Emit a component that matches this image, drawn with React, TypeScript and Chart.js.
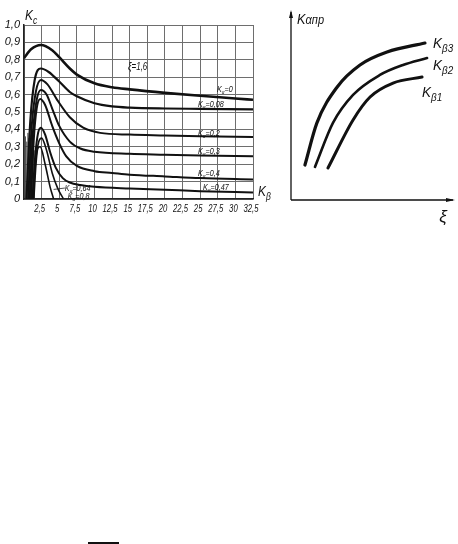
import React, { useEffect, useRef } from 'react';
import { Chart, registerables } from 'chart.js';
Chart.register(...registerables);

// ---------- Left chart data ----------
const xTicks = [0, 2.5, 5, 7.5, 10, 12.5, 15, 17.5, 20, 22.5, 25, 27.5, 30, 32.5];
const xTickLabels = ['', '2,5', '5', '7,5', '10', '12,5', '15', '17,5', '20', '22,5', '25', '27,5', '30', '32,5'];
const yTicks = [0, 0.1, 0.2, 0.3, 0.4, 0.5, 0.6, 0.7, 0.8, 0.9, 1.0];
const yTickLabels = ['0', '0,1', '0,2', '0,3', '0,4', '0,5', '0,6', '0,7', '0,8', '0,9', '1,0'];

const k0X = [0, 1, 2.4, 4, 5, 6.5, 7.5, 10, 12.5, 15, 20, 25, 30, 32.5];
const k0Y = [0.81, 0.86, 0.885, 0.855, 0.815, 0.75, 0.715, 0.665, 0.642, 0.63, 0.61, 0.593, 0.578, 0.57];

const k008X = [0.35, 0.9, 1.5, 2.4, 3.5, 5, 6.5, 7.5, 10, 12.5, 15, 20, 25, 32.5];
const k008Y = [0, 0.45, 0.68, 0.75, 0.73, 0.675, 0.615, 0.59, 0.55, 0.532, 0.525, 0.52, 0.518, 0.515];

const k02X = [0.6, 1.1, 1.7, 2.4, 3.3, 4.7, 6.5, 8.4, 10.8, 15, 20, 25, 32.5];
const k02Y = [0, 0.42, 0.62, 0.684, 0.66, 0.57, 0.47, 0.41, 0.38, 0.37, 0.365, 0.36, 0.356];

const k03X = [0.8, 1.3, 1.8, 2.4, 3.2, 4, 5, 6.5, 8, 10, 15, 20, 25, 32.5];
const k03Y = [0, 0.4, 0.57, 0.626, 0.6, 0.52, 0.42, 0.33, 0.29, 0.272, 0.26, 0.255, 0.25, 0.245];

const k04X = [1.0, 1.4, 1.8, 2.3, 3, 4, 5, 6, 7.5, 10, 12.5, 15, 20, 25, 32.5];
const k04Y = [0, 0.35, 0.52, 0.575, 0.54, 0.42, 0.32, 0.245, 0.19, 0.16, 0.15, 0.14, 0.13, 0.12, 0.112];

const k047X = [1.2, 1.6, 2.0, 2.4, 3, 3.7, 4.5, 5.5, 6.5, 8, 10, 15, 20, 25, 32.5];
const k047Y = [0, 0.25, 0.38, 0.41, 0.37, 0.27, 0.18, 0.12, 0.095, 0.08, 0.07, 0.06, 0.053, 0.045, 0.038];

const k064X = [1.3, 1.7, 2.1, 2.5, 3.2, 4, 4.8, 5.6];
const k064Y = [0, 0.24, 0.33, 0.35, 0.28, 0.15, 0.06, 0];

const k08X = [1.4, 1.7, 1.95, 2.3, 3, 3.7, 4.2];
const k08Y = [0, 0.2, 0.29, 0.3, 0.2, 0.07, 0];

const hatchX = [0.2, 0.4, 0.55, 0.7, 0.85, 1.0, 1.15, 1.3, 1.45];
const hatchTop = [0.36, 0.33, 0.38, 0.35, 0.37, 0.34, 0.36, 0.3, 0.28];

const curveLabels = ['0', '0,08', '0,2', '0,3', '0,4', '0,47', '0,64', '0,8'];
const curveLabelX = [27.4, 24.7, 24.7, 24.7, 24.7, 25.4, 5.8, 6.2];
const curveLabelY = [0.632, 0.546, 0.379, 0.276, 0.149, 0.069, 0.063, 0.017];

const xiLabel = 'ξ=1,6';
const xiLabelX = 14.75;
const xiLabelY = 0.759;

// ---------- Right chart data ----------
const kb3X = [0.086, 0.16, 0.284, 0.426, 0.593, 0.827];
const kb3Y = [0.186, 0.41, 0.6, 0.718, 0.787, 0.835];
const kb2X = [0.148, 0.259, 0.383, 0.549, 0.691, 0.84];
const kb2Y = [0.176, 0.41, 0.559, 0.665, 0.718, 0.755];
const kb1X = [0.228, 0.383, 0.488, 0.63, 0.809];
const kb1Y = [0.17, 0.426, 0.548, 0.622, 0.654];

const kbLabels = ['3', '2', '1'];
const kbLabelX = [0.877, 0.877, 0.809];
const kbLabelY = [0.835, 0.718, 0.574];

const toPts = (xs: number[], ys: number[]) => xs.map((x, i) => ({ x, y: ys[i] }));

const FONT = '"Liberation Sans Narrow", "Liberation Sans", "DejaVu Sans", sans-serif';

function drawSubLabel(ctx: CanvasRenderingContext2D, x: number, y: number, main: string, sub: string, rest: string, size: number, squeeze = 1) {
  ctx.save();
  ctx.translate(x, y);
  ctx.scale(squeeze, 1);
  ctx.fillStyle = '#111';
  ctx.textBaseline = 'alphabetic';
  ctx.textAlign = 'left';
  ctx.font = `italic ${size}px ${FONT}`;
  ctx.fillText(main, 0, 0);
  let w = ctx.measureText(main).width;
  ctx.font = `italic ${Math.round(size * 0.72)}px ${FONT}`;
  ctx.fillText(sub, w, size * 0.25);
  w += ctx.measureText(sub).width;
  if (rest) {
    ctx.font = `italic ${size}px ${FONT}`;
    ctx.fillText(rest, w, 0);
  }
  ctx.restore();
}

const leftLabelsPlugin = {
  id: 'leftLabels',
  afterDraw(chart: any) {
    const { ctx, chartArea, scales } = chart;
    const xs = scales.x;
    const ys = scales.y;
    // x tick labels (narrow handwritten style)
    ctx.save();
    ctx.fillStyle = '#111';
    ctx.font = `italic 11px ${FONT}`;
    ctx.textAlign = 'center';
    ctx.textBaseline = 'top';
    xTicks.forEach((v, i) => {
      const t = xTickLabels[i];
      if (!t) return;
      ctx.save();
      ctx.translate(xs.getPixelForValue(v) - 2, chartArea.bottom + 4);
      ctx.scale(0.7, 1);
      ctx.fillText(t, 0, 0);
      ctx.restore();
    });
    ctx.restore();
    // axis titles
    drawSubLabel(ctx, chartArea.left + 1, chartArea.top - 5, 'K', 'c', '', 14, 0.85);
    drawSubLabel(ctx, chartArea.right + 5, chartArea.bottom - 3, 'K', 'β', '', 14, 0.85);
    // xi label
    ctx.save();
    ctx.fillStyle = '#111';
    ctx.font = `italic 10px ${FONT}`;
    ctx.textBaseline = 'middle';
    ctx.translate(xs.getPixelForValue(xiLabelX), ys.getPixelForValue(xiLabelY));
    ctx.scale(0.8, 1);
    ctx.fillText(xiLabel, 0, 0);
    ctx.restore();
    // curve labels
    curveLabels.forEach((t, i) => {
      const px = xs.getPixelForValue(curveLabelX[i]);
      const py = ys.getPixelForValue(curveLabelY[i]) + 3;
      drawSubLabel(ctx, px, py, 'K', 'α', '=' + t, 9, 0.8);
    });
    // leader for 0,64
    ctx.save();
    ctx.strokeStyle = '#222';
    ctx.lineWidth = 0.8;
    ctx.beginPath();
    ctx.moveTo(xs.getPixelForValue(4.2), ys.getPixelForValue(0.055));
    ctx.lineTo(xs.getPixelForValue(curveLabelX[6]), ys.getPixelForValue(curveLabelY[6]));
    ctx.stroke();
    ctx.restore();
  },
};

const rightPlugin = {
  id: 'rightAxes',
  beforeDatasetsDraw(chart: any) {
    const { ctx, chartArea } = chart;
    const { left, right, top, bottom } = chartArea;
    ctx.save();
    ctx.strokeStyle = '#111';
    ctx.fillStyle = '#111';
    ctx.lineWidth = 1.3;
    ctx.beginPath();
    ctx.moveTo(left, bottom);
    ctx.lineTo(left, top);
    ctx.moveTo(left, bottom);
    ctx.lineTo(right, bottom);
    ctx.stroke();
    // arrows
    ctx.beginPath();
    ctx.moveTo(left, top - 2);
    ctx.lineTo(left - 2, top + 6);
    ctx.lineTo(left + 2, top + 6);
    ctx.closePath();
    ctx.fill();
    ctx.beginPath();
    ctx.moveTo(right + 2, bottom);
    ctx.lineTo(right - 7, bottom - 2);
    ctx.lineTo(right - 7, bottom + 2);
    ctx.closePath();
    ctx.fill();
    ctx.restore();
  },
  afterDraw(chart: any) {
    const { ctx, chartArea, scales } = chart;
    const { left, right, top, bottom } = chartArea;
    ctx.save();
    ctx.fillStyle = '#111';
    ctx.textBaseline = 'alphabetic';
    ctx.translate(left + 6, top + 12);
    ctx.scale(0.85, 1);
    ctx.font = `italic 15px ${FONT}`;
    ctx.fillText('K', 0, 0);
    const kw = ctx.measureText('K').width;
    ctx.font = `italic 13px ${FONT}`;
    ctx.fillText('αпр', kw, 0);
    ctx.restore();
    ctx.save();
    ctx.fillStyle = '#111';
    ctx.font = `italic 17px ${FONT}`;
    ctx.textAlign = 'center';
    ctx.fillText('ξ', right - 10, bottom + 22);
    ctx.restore();
    kbLabels.forEach((t, i) => {
      const px = scales.x.getPixelForValue(kbLabelX[i]);
      const py = scales.y.getPixelForValue(kbLabelY[i]) + 5;
      drawSubLabel(ctx, px, py, 'K', 'β' + t, '', 15, 0.9);
    });
  },
};

function LeftChart() {
  const ref = useRef<HTMLCanvasElement>(null);
  useEffect(() => {
    if (!ref.current) return;
    const hatchPts: any[] = [];
    hatchX.forEach((hx, i) => {
      hatchPts.push({ x: hx, y: 0 }, { x: hx, y: hatchTop[i] }, { x: hx, y: null });
    });
    const curve = (xs: number[], ys: number[], w = 2) => ({
      data: toPts(xs, ys),
      borderColor: '#111',
      borderWidth: w,
      pointRadius: 0,
      cubicInterpolationMode: 'monotone' as const,
      fill: false,
    });
    const chart = new Chart(ref.current, {
      type: 'line',
      data: {
        datasets: [
          curve(k0X, k0Y, 2.6),
          curve(k008X, k008Y, 2.2),
          curve(k02X, k02Y),
          curve(k03X, k03Y),
          curve(k04X, k04Y),
          curve(k047X, k047Y),
          curve(k064X, k064Y, 1.6),
          curve(k08X, k08Y, 1.6),
          {
            data: hatchPts,
            borderColor: '#444',
            borderWidth: 1,
            pointRadius: 0,
            tension: 0,
            spanGaps: false,
            fill: false,
          } as any,
        ],
      },
      options: {
        responsive: false,
        animation: false,
        events: [],
        layout: { padding: { left: 0, top: 25, right: 32, bottom: 0 } },
        plugins: { legend: { display: false }, tooltip: { enabled: false }, title: { display: false } },
        scales: {
          x: {
            type: 'linear',
            min: 0,
            max: 32.5,
            afterBuildTicks: (s: any) => { s.ticks = xTicks.map((v) => ({ value: v })); },
            afterFit: (s: any) => { s.height = 21; },
            ticks: { display: false },
            grid: { color: '#6e6e6e', lineWidth: 1, drawTicks: false },
            border: { display: true, color: '#222', width: 1.5 },
          },
          y: {
            type: 'linear',
            min: 0,
            max: 1,
            afterBuildTicks: (s: any) => { s.ticks = yTicks.map((v) => ({ value: v })); },
            afterFit: (s: any) => { s.width = 24; },
            ticks: {
              autoSkip: false,
              padding: 4,
              color: '#111',
              font: { family: FONT, size: 11, style: 'italic' },
              callback: (_v: any, i: number) => yTickLabels[i],
            },
            grid: { color: '#6e6e6e', lineWidth: 1, drawTicks: false },
            border: { display: true, color: '#222', width: 1.5 },
          },
        },
      },
      plugins: [leftLabelsPlugin],
    });
    return () => chart.destroy();
  }, []);
  return <canvas ref={ref} width={285} height={220} style={{ position: 'absolute', left: 0, top: 0 }} />;
}

function RightChart() {
  const ref = useRef<HTMLCanvasElement>(null);
  useEffect(() => {
    if (!ref.current) return;
    const curve = (xs: number[], ys: number[], w: number) => ({
      data: toPts(xs, ys),
      borderColor: '#111',
      borderWidth: w,
      pointRadius: 0,
      cubicInterpolationMode: 'monotone' as const,
      fill: false,
      borderCapStyle: 'round' as const,
    });
    const chart = new Chart(ref.current, {
      type: 'line',
      data: {
        datasets: [curve(kb3X, kb3Y, 3.2), curve(kb2X, kb2Y, 2.6), curve(kb1X, kb1Y, 3)],
      },
      options: {
        responsive: false,
        animation: false,
        events: [],
        layout: { padding: { left: 21, top: 12, right: 5, bottom: 40 } },
        plugins: { legend: { display: false }, tooltip: { enabled: false } },
        scales: {
          x: { type: 'linear', min: 0, max: 1, display: false },
          y: { type: 'linear', min: 0, max: 1, display: false },
        },
      },
      plugins: [rightPlugin],
    });
    return () => chart.destroy();
  }, []);
  return <canvas ref={ref} width={188} height={240} style={{ position: 'absolute', left: 270, top: 0 }} />;
}

export default function App() {
  return (
    <div style={{ position: 'absolute', left: 0, top: 0, width: 458, height: 544, background: '#fff', overflow: 'hidden' }}>
      <LeftChart />
      <RightChart />
      <div style={{ position: 'absolute', left: 88, top: 542, width: 31, height: 2, background: '#111' }} />
    </div>
  );
}
